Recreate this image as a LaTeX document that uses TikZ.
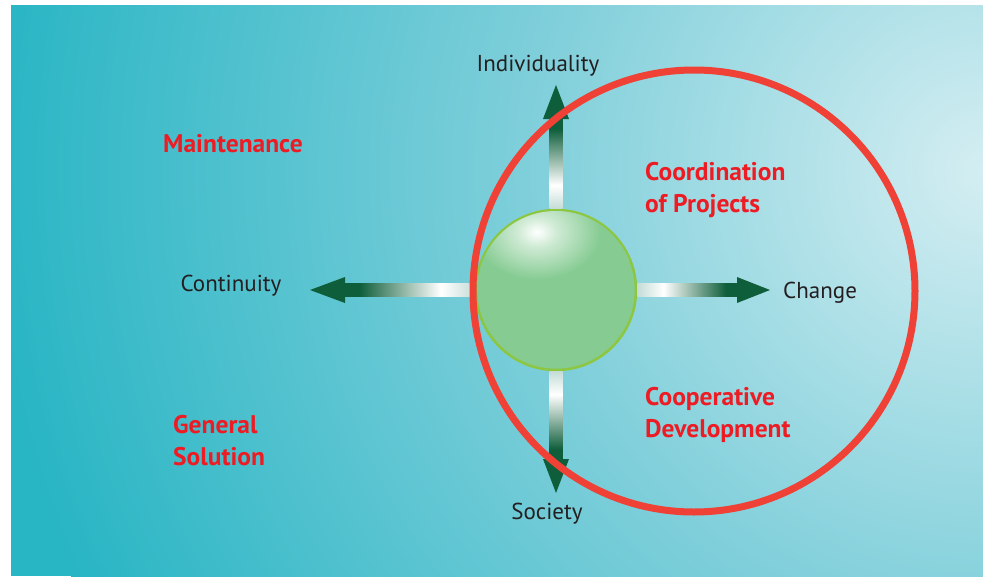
\documentclass[tikz,border=0pt]{standalone}
\usepackage{fontspec}
\setmainfont{PT Sans}
\usepackage{xcolor}
\usepackage{tikz}
\usetikzlibrary{arrows.meta, positioning}
\definecolor{bgteal}{RGB}{40,181,196}
\definecolor{bgmid}{RGB}{130,208,219}
\definecolor{bglight}{RGB}{212,238,242}
\definecolor{ringred}{RGB}{239,65,54}
\definecolor{labelred}{RGB}{237,28,36}
\definecolor{arrowdark}{RGB}{15,94,59}
\definecolor{ballgreen}{RGB}{133,203,146}
\definecolor{ballrim}{RGB}{141,198,63}
\definecolor{shaftpale}{RGB}{196,220,214}
\definecolor{textdark}{RGB}{35,31,32}

\pgfdeclareradialshading{bgglow}{\pgfpoint{0bp}{0bp}}{color(0bp)=(bglight); color(11bp)=(bgmid); color(25bp)=(bgteal); color(50bp)=(bgteal)}
\pgfdeclareradialshading{ballshine}{\pgfpoint{0bp}{0bp}}{color(0bp)=(white); color(5bp)=(ballgreen!40!white); color(16bp)=(ballgreen); color(50bp)=(ballgreen)}
% dark at the arrow head, white close to the ball
\pgfdeclarehorizontalshading{shaftfade}{100bp}{color(0bp)=(arrowdark); color(31bp)=(arrowdark); color(51bp)=(arrowdark!35!white); color(62bp)=(white); color(75bp)=(shaftpale); color(100bp)=(shaftpale)}
\pgfdeclareverticalshading{shaftfadev}{100bp}{color(0bp)=(arrowdark); color(31bp)=(arrowdark); color(51bp)=(arrowdark!35!white); color(62bp)=(white); color(75bp)=(shaftpale); color(100bp)=(shaftpale)}

\begin{document}
\begin{tikzpicture}[x=1pt, y=-1pt,
    blacklabel/.style={text=textdark, font=\fontsize{23}{27}\selectfont, inner sep=0pt},
    redlabel/.style={text=labelred, font=\fontsize{25.5}{32}\selectfont\bfseries, align=left, inner sep=0pt}]
    \useasboundingbox (0,0) rectangle (983,576);
    \fill[bgteal] (11,5) rectangle (983,576);
    \begin{scope}
        \clip (11,5) rectangle (983,576);
        \shade[shading=bgglow] (985,170) circle[radius=1000pt];
    \end{scope}

    \node (ball) [circle, draw=ballrim, line width=2.5pt, fill=ballgreen, minimum size=160pt, inner sep=0pt] at (556,290) {};
    \coordinate (shine) at (537,232);
    \begin{scope}
        \clip (ball.center) circle[radius=79pt];
        \shade[shading=ballshine] (shine) ellipse[x radius=100pt, y radius=75pt];
    \end{scope}

    \coordinate (up_tip) at (556,85);
    \coordinate (down_tip) at (556,493);
    \coordinate (left_tip) at (310,290);
    \coordinate (right_tip) at (770,290);

    % shafts
    \shade[shading=shaftfadev, shading angle=180] ([xshift=-6.5pt]ball.north) rectangle ([xshift=6.5pt, yshift=-33pt]up_tip);
    \shade[shading=shaftfadev] ([xshift=-6.5pt]ball.south) rectangle ([xshift=6.5pt, yshift=33pt]down_tip);
    \shade[shading=shaftfade] ([yshift=-6.5pt]ball.west) rectangle ([xshift=34pt, yshift=6.5pt]left_tip);
    \shade[shading=shaftfade, shading angle=180] ([yshift=-6.5pt]ball.east) rectangle ([xshift=-32pt, yshift=6.5pt]right_tip);
    % heads
    \fill[arrowdark] (up_tip) -- ++(-13,34) -- ++(26,0) -- cycle;
    \fill[arrowdark] (down_tip) -- ++(-13,-34) -- ++(26,0) -- cycle;
    \fill[arrowdark] (left_tip) -- ++(35,-13) -- ++(0,26) -- cycle;
    \fill[arrowdark] (right_tip) -- ++(-33,-13) -- ++(0,26) -- cycle;

    \node (ring) [circle, draw=ringred, line width=7pt, minimum size=442pt, inner sep=0pt] at (694,291) {};

    \node (indiv) [blacklabel, anchor=base] at (538,71) {Individuality};
    \node (cont) [blacklabel, anchor=base] at (231,291) {Continuity};
    \node (chg) [blacklabel, anchor=base west] at (783,298) {Change};
    \node (soc) [blacklabel, anchor=base] at (547,519) {Society};

    % multi-line labels sit on the baseline of their last line
    \node (maint) [redlabel, anchor=base west] at (163,152) {Maintenance};
    \node (coord) [redlabel, anchor=base west] at (645,212) {Coordination\\of Projects};
    \node (coop) [redlabel, anchor=base west] at (645,437) {Cooperative\\Development};
    \node (gensol) [redlabel, anchor=base west] at (173,465) {General\\Solution};
\end{tikzpicture}
\end{document}
